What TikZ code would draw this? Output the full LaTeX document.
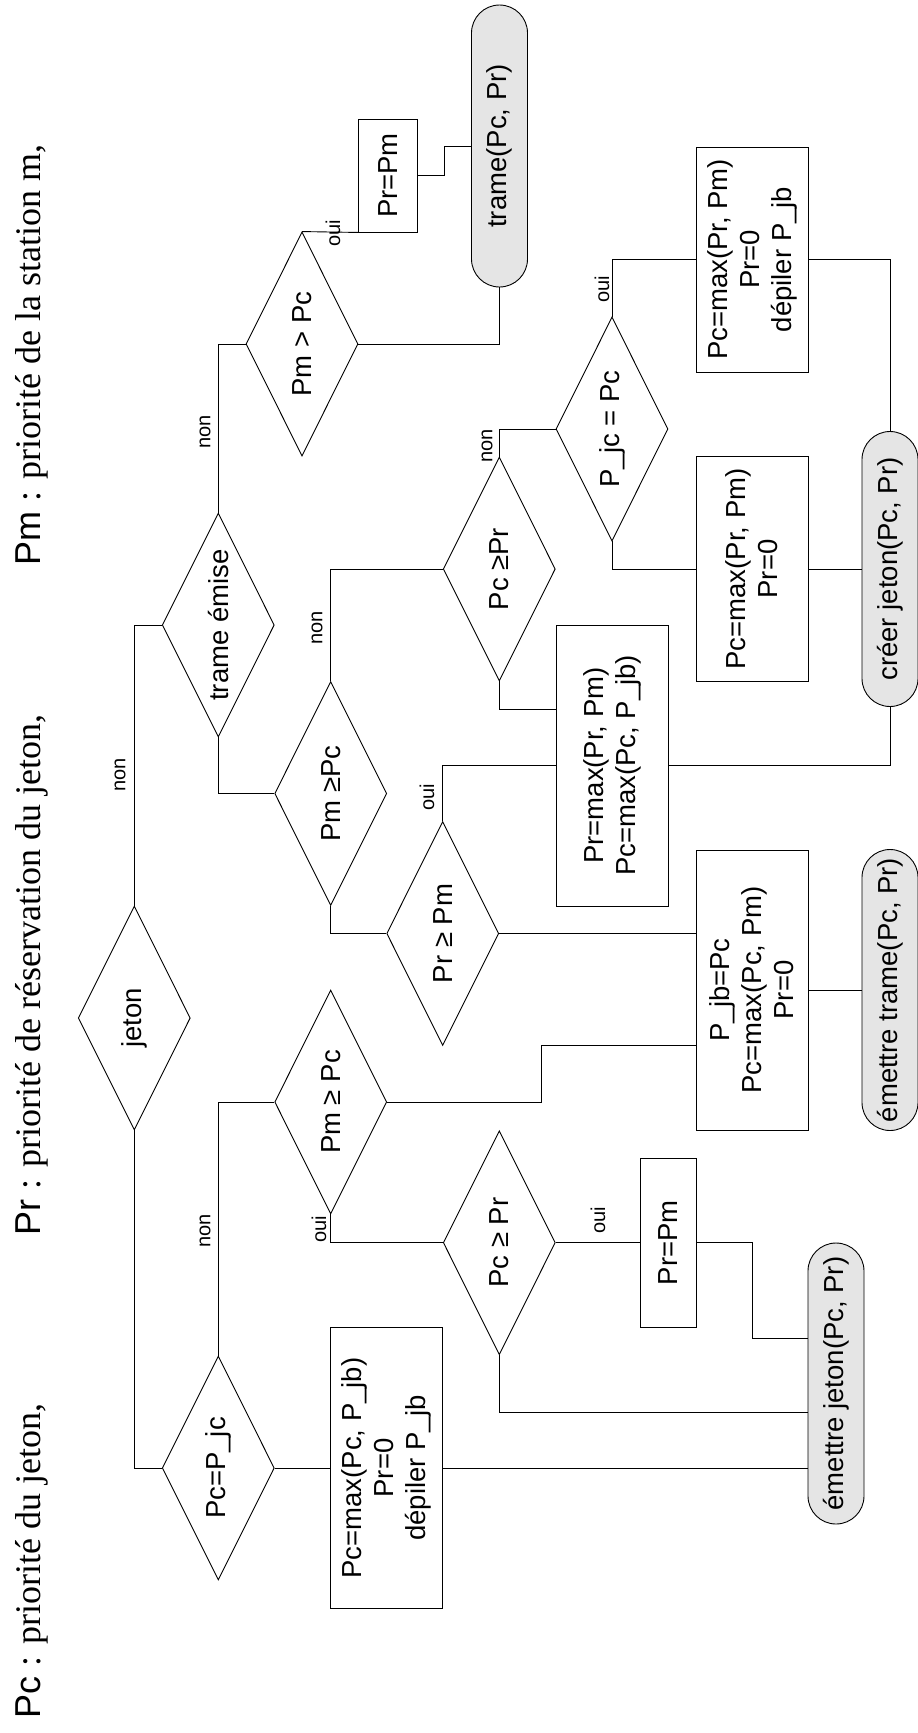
\documentclass[tikz,border=0pt]{standalone}
\usepackage{fontspec}
\setmainfont{Liberation Sans}
\newfontfamily\legserif{Liberation Serif}
\usetikzlibrary{shapes.geometric,calc}
\definecolor{termfill}{RGB}{229,229,229}
\begin{document}
\begin{tikzpicture}[x=1pt,y=1pt]
\useasboundingbox (0,0) rectangle (918,-1733);
\begin{scope}[shift={(918,-1733)}, rotate=90, transform shape, line width=0.9pt,
  every node/.style={font=\fontsize{27.5}{32}\selectfont, inner sep=0pt, line width=0.9pt},
  dec/.style={draw, shape=diamond, aspect=2, minimum width=224pt, minimum height=112pt},
  proc/.style={draw, rectangle, align=center, minimum height=112pt},
  term/.style={draw, fill=termfill, rectangle, rounded corners=28pt, minimum height=56pt},
  lab/.style={font=\fontsize{20}{24}\selectfont},
  leg/.style={anchor=base west, font=\fontsize{36}{42}\selectfont}]

% legend
\node[leg] (l1) at (14,878) {Pc {\legserif : priorité du jeton,}};
\node[leg] (l2) at (497,878) {Pr {\legserif : priorité de réservation du jeton,}};
\node[leg] (l3) at (1167,878) {Pm {\legserif : priorité de la station m,}};

% decisions
\node[dec] (jeton) at (715,783.7) {jeton};
\node[dec] (trame) at (1108,699.7) {trame émise};
\node[dec] (pmgtpc) at (1389,616) {Pm > Pc};
\node[dec] (pjc) at (1304,306) {P\_jc = Pc};
\node[dec] (pcpr1) at (1164,418.7) {Pc ≥Pr};
\node[dec] (pmpc1) at (939.5,587.3) {Pm ≥Pc};
\node[dec] (prpm) at (799.5,475.3) {Pr ≥ Pm};
\node[dec] (pmpc2) at (631,587.3) {Pm ≥ Pc};
\node[dec] (pcpr2) at (490.3,418.7) {Pc ≥ Pr};
\node[dec] (pcpjc) at (265,699.7) {Pc=P\_jc};

% process boxes
\node[proc, minimum width=113pt, minimum height=59pt] (b1) at (1557.5,529.8) {Pr=Pm};
\node[proc, minimum width=225pt] (b2) at (1473.5,166) {Pc=max(Pr, Pm)\\Pr=0\\dépiler P\_jb};
\node[proc, minimum width=225pt] (b3) at (1164,166) {Pc=max(Pr, Pm)\\Pr=0};
\node[proc, minimum width=281pt] (b4) at (967.5,306) {Pr=max(Pr, Pm)\\Pc=max(Pc, P\_jb)};
\node[proc, minimum width=280pt] (b5) at (743,166) {P\_jb=Pc\\Pc=max(Pc, Pm)\\Pr=0};
\node[proc, minimum width=169pt, minimum height=56pt] (b6) at (490.3,250) {Pr=Pm};
\node[proc, minimum width=281pt] (b7) at (265,531.3) {Pc=max(Pc, P\_jb)\\Pr=0\\dépiler P\_jb};

% terminals
\node[term, minimum width=282pt] (t1) at (1587,418.5) {trame(Pc, Pr)};
\node[term, minimum width=275pt] (t2) at (1164,28) {créer jeton(Pc, Pr)};
\node[term, minimum width=281pt] (t3) at (743,28) {émettre trame(Pc, Pr)};
\node[term, minimum width=281pt] (t4) at (349.5,82) {émettre jeton(Pc, Pr)};

% connectors
\draw (jeton.east) -| (trame.north);
\draw (trame.east) -| (pmgtpc.north);
\draw (pmgtpc.east) -- (b1.north west);
\draw (b1.south) -- ++(0,-26) -| (t1.north);
\draw (pmgtpc.south) |- (t1.west);
\draw (trame.west) -| (pmpc1.north);
\draw (pmpc1.east) -| (pcpr1.north);
\draw (pcpr1.east) -| (pjc.north);
\draw (pjc.east) -| (b2.north);
\draw (b2.south) |- (t2.east);
\draw (pjc.west) -| (b3.north);
\draw (b3.south) -- (t2.north);
\draw (pcpr1.west) -- ++(-28,0) coordinate (k1) -- (k1 |- b4.north);
\draw (pmpc1.west) -| (prpm.north);
\draw (prpm.east) -| (b4.north);
\draw (b4.south) |- (t2.west);
\draw (prpm.south) -- (prpm.south |- b5.north);
\draw (b5.south) -- (t3.north);
\draw (pcpjc.east) -| (pmpc2.north);
\draw (jeton.west) -| (pcpjc.north);
\coordinate (k2) at (687.3,376.3);
\draw (pmpc2.south) |- (k2) -- (k2 |- b5.north);
\draw (pmpc2.west) -| (pcpr2.north);
\draw (pcpr2.south) -- (b6.north);
\coordinate (k3) at (394.4,165.7);
\draw (b6.south) |- (k3) -- (k3 |- t4.north);
\draw (pcpr2.west) -- ++(-57,0) coordinate (k4) -- (k4 |- t4.north);
\draw (b7.south) -- (b7.south |- t4.north);
\draw (pcpjc.south) -- (b7.north);

% labels
\node[lab] (n1) at (958,798) {non};
\node[lab] (n2) at (1301,713) {non};
\node[lab] (o1) at (1500,585) {oui};
\node[lab] (n3) at (1105,601) {non};
\node[lab] (n4) at (1287,431) {non};
\node[lab] (o2) at (1443.5,316) {oui};
\node[lab] (o3) at (936,491) {oui};
\node[lab] (n5) at (502,713) {non};
\node[lab] (o4) at (504,599) {oui};
\node[lab] (o5) at (513,320) {oui};
\end{scope}
\end{tikzpicture}
\end{document}
